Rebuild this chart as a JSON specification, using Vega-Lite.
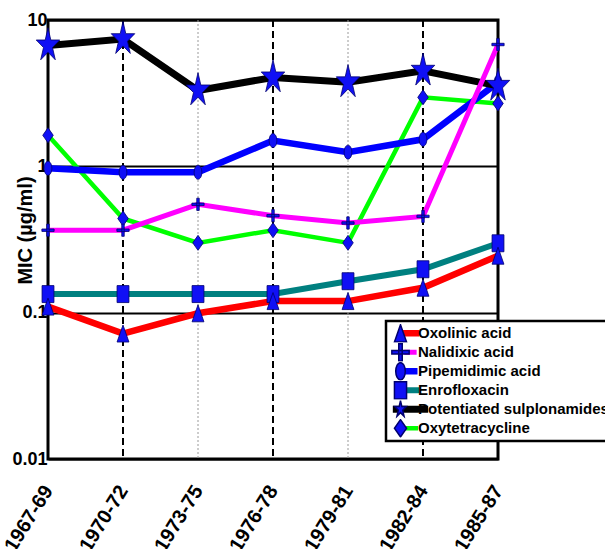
{
  "$schema": "https://vega.github.io/schema/vega-lite/v6.json",
  "width": 450,
  "height": 439,
  "autosize": {"type": "none"},
  "padding": {"left": 48, "top": 20, "right": 107, "bottom": 90},
  "background": "white",
  "config": {
    "view": {"stroke": "black", "strokeWidth": 3},
    "font": "Liberation Sans"
  },
  "datasets": {
    "mic": [
      {"period": "1967-69", "series": "Oxytetracycline", "value": 1.63},
      {"period": "1970-72", "series": "Oxytetracycline", "value": 0.44},
      {"period": "1973-75", "series": "Oxytetracycline", "value": 0.3},
      {"period": "1976-78", "series": "Oxytetracycline", "value": 0.366},
      {"period": "1979-81", "series": "Oxytetracycline", "value": 0.3},
      {"period": "1982-84", "series": "Oxytetracycline", "value": 2.96},
      {"period": "1985-87", "series": "Oxytetracycline", "value": 2.69},
      {"period": "1967-69", "series": "Enrofloxacin", "value": 0.134},
      {"period": "1970-72", "series": "Enrofloxacin", "value": 0.134},
      {"period": "1973-75", "series": "Enrofloxacin", "value": 0.134},
      {"period": "1976-78", "series": "Enrofloxacin", "value": 0.134},
      {"period": "1979-81", "series": "Enrofloxacin", "value": 0.164},
      {"period": "1982-84", "series": "Enrofloxacin", "value": 0.198},
      {"period": "1985-87", "series": "Enrofloxacin", "value": 0.298},
      {"period": "1967-69", "series": "Oxolinic acid", "value": 0.11},
      {"period": "1970-72", "series": "Oxolinic acid", "value": 0.072},
      {"period": "1973-75", "series": "Oxolinic acid", "value": 0.099},
      {"period": "1976-78", "series": "Oxolinic acid", "value": 0.12},
      {"period": "1979-81", "series": "Oxolinic acid", "value": 0.12},
      {"period": "1982-84", "series": "Oxolinic acid", "value": 0.148},
      {"period": "1985-87", "series": "Oxolinic acid", "value": 0.245},
      {"period": "1967-69", "series": "Pipemidimic acid", "value": 0.97},
      {"period": "1970-72", "series": "Pipemidimic acid", "value": 0.91},
      {"period": "1973-75", "series": "Pipemidimic acid", "value": 0.91},
      {"period": "1976-78", "series": "Pipemidimic acid", "value": 1.5},
      {"period": "1979-81", "series": "Pipemidimic acid", "value": 1.25},
      {"period": "1982-84", "series": "Pipemidimic acid", "value": 1.53},
      {"period": "1985-87", "series": "Pipemidimic acid", "value": 3.75},
      {"period": "1967-69", "series": "Potentiated sulplonamides", "value": 6.7},
      {"period": "1970-72", "series": "Potentiated sulplonamides", "value": 7.4},
      {"period": "1973-75", "series": "Potentiated sulplonamides", "value": 3.3},
      {"period": "1976-78", "series": "Potentiated sulplonamides", "value": 4.05},
      {"period": "1979-81", "series": "Potentiated sulplonamides", "value": 3.75},
      {"period": "1982-84", "series": "Potentiated sulplonamides", "value": 4.5},
      {"period": "1985-87", "series": "Potentiated sulplonamides", "value": 3.55},
      {"period": "1967-69", "series": "Nalidixic acid", "value": 0.366},
      {"period": "1970-72", "series": "Nalidixic acid", "value": 0.366},
      {"period": "1973-75", "series": "Nalidixic acid", "value": 0.55},
      {"period": "1976-78", "series": "Nalidixic acid", "value": 0.46},
      {"period": "1979-81", "series": "Nalidixic acid", "value": 0.41},
      {"period": "1982-84", "series": "Nalidixic acid", "value": 0.455},
      {"period": "1985-87", "series": "Nalidixic acid", "value": 6.8}
    ],
    "dashed": [{"period": "1970-72"}, {"period": "1976-78"}, {"period": "1982-84"}],
    "dotted": [{"period": "1973-75"}, {"period": "1979-81"}]
  },
  "layer": [
    {
      "data": {"name": "dotted"},
      "mark": {"type": "rule", "color": "#9a9a9a", "strokeWidth": 1, "strokeDash": [2, 2]},
      "encoding": {
        "x": {"field": "period", "type": "ordinal"}
      }
    },
    {
      "data": {"name": "dashed"},
      "mark": {"type": "rule", "color": "black", "strokeWidth": 2, "strokeDash": [7, 4]},
      "encoding": {
        "x": {"field": "period", "type": "ordinal"}
      }
    },
    {
      "data": {"name": "mic"},
      "mark": {"type": "line", "strokeCap": "butt", "strokeJoin": "miter"},
      "encoding": {
        "x": {
          "field": "period", "type": "ordinal",
          "scale": {"type": "point", "padding": 0, "domain": ["1967-69", "1970-72", "1973-75", "1976-78", "1979-81", "1982-84", "1985-87"]},
          "axis": {
            "title": null, "labelAngle": -58, "labelFont": "Liberation Sans", "labelFontWeight": "bold",
            "labelFontSize": 20, "labelColor": "black", "ticks": false, "domain": false, "grid": false,
            "labelPadding": 28, "labelDx": 1
          }
        },
        "y": {
          "field": "value", "type": "quantitative",
          "scale": {"type": "log", "domain": [0.01, 10], "nice": false},
          "axis": {
            "title": "MIC (µg/ml)", "values": [0.01, 0.1, 1, 10], "format": "~g",
            "labelFont": "Liberation Sans", "labelFontWeight": "bold", "labelFontSize": 18, "labelColor": "black",
            "labelPadding": 1, "ticks": false, "tickSize": 0, "domain": false,
            "grid": true, "gridColor": "black", "gridWidth": 2, "gridOpacity": 1,
            "titleFont": "Liberation Sans", "titleFontWeight": "bold", "titleFontSize": 20, "titleColor": "black",
            "titleX": -23, "titleY": 210, "titleAngle": 270, "titleAlign": "center", "titleBaseline": "middle"
          }
        },
        "color": {
          "field": "series", "type": "nominal",
          "scale": {
            "domain": ["Oxytetracycline", "Potentiated sulplonamides", "Enrofloxacin", "Pipemidimic acid", "Nalidixic acid", "Oxolinic acid"],
            "range": ["#000000", "#000000", "#000000", "#000000", "#000000", "#000000"]
          },
          "legend": {
            "orient": "none", "legendX": 335, "legendY": 304, "title": null,
            "values": ["Oxolinic acid", "Nalidixic acid", "Pipemidimic acid", "Enrofloxacin", "Potentiated sulplonamides", "Oxytetracycline"],
            "symbolType": "stroke", "symbolSize": 484, "symbolStrokeWidth": 4, "symbolOpacity": 0,
            "clipHeight": 18.6, "rowPadding": 0, "padding": 3,
            "labelFont": "Liberation Sans", "labelFontWeight": "bold", "labelFontSize": 15, "labelLimit": 400,
            "labelOffset": -14, "labelOpacity": 0,
            "fillColor": "black", "strokeColor": "black",
            "encode": {"legend": {"update": {"strokeWidth": {"value": 2.5}}}}
          }
        },
        "stroke": {
          "field": "series", "type": "nominal",
          "scale": {
            "domain": ["Oxolinic acid", "Nalidixic acid", "Pipemidimic acid", "Enrofloxacin", "Potentiated sulplonamides", "Oxytetracycline"],
            "range": ["#ff0000", "#ff00ff", "#0000ff", "#008080", "#000000", "#00ff00"]
          },
          "legend": {
            "orient": "none", "legendX": 338, "legendY": 301, "title": null,
            "values": ["Oxolinic acid", "Nalidixic acid", "Pipemidimic acid", "Enrofloxacin", "Potentiated sulplonamides", "Oxytetracycline"],
            "symbolType": "stroke", "symbolSize": 484, "symbolStrokeWidth": 4,
            "clipHeight": 18.6, "rowPadding": 0, "padding": 3,
            "labelFont": "Liberation Sans", "labelFontWeight": "bold", "labelFontSize": 15, "labelLimit": 400,
            "labelOffset": -14, "labelColor": "black",
            "fillColor": "white", "strokeColor": "black",
            "encode": {"legend": {"update": {"strokeWidth": {"value": 2.5}}}}
          }
        },
        "strokeWidth": {
          "field": "series", "type": "nominal",
          "scale": {
            "type": "ordinal",
            "domain": ["Oxolinic acid", "Nalidixic acid", "Pipemidimic acid", "Enrofloxacin", "Potentiated sulplonamides", "Oxytetracycline"],
            "range": [6.5, 5, 6.5, 6, 7, 4.5]
          },
          "legend": null
        }
      }
    },
    {
      "data": {"name": "mic"},
      "mark": {"type": "point", "filled": true, "fill": "#1010f5", "stroke": "#00006e", "strokeWidth": 0.8, "opacity": 1},
      "encoding": {
        "x": {"field": "period", "type": "ordinal"},
        "y": {"field": "value", "type": "quantitative"},
        "shape": {
          "field": "series", "type": "nominal",
          "scale": {
            "domain": ["Nalidixic acid", "Pipemidimic acid", "Enrofloxacin", "Potentiated sulplonamides", "Oxytetracycline", "Oxolinic acid"],
            "range": [
              "M-1,-0.2H1V0.2H-1Z M-0.2,-1H0.2V1H-0.2Z",
              "M0,-1A0.55,1,0,1,1,0,1A0.55,1,0,1,1,0,-1Z",
              "M-0.7,-1H0.7V1H-0.7Z",
              "M0,-1L0.158,-0.309L0.666,-0.309L0.254,0.118L0.412,0.809L0,0.382L-0.412,0.809L-0.254,0.118L-0.666,-0.309L-0.158,-0.309Z",
              "M0,-1L0.7,0L0,1L-0.7,0Z",
              "M0,-1L0.7,1L-0.7,1Z"
            ]
          },
          "legend": {
            "orient": "none", "legendX": 338, "legendY": 301, "title": null,
            "values": ["Oxolinic acid", "Nalidixic acid", "Pipemidimic acid", "Enrofloxacin", "Potentiated sulplonamides", "Oxytetracycline"],
            "symbolSize": 300, "clipHeight": 18.6, "rowPadding": 0, "padding": 3,
            "labelFont": "Liberation Sans", "labelFontWeight": "bold", "labelFontSize": 15, "labelLimit": 400,
            "labelOpacity": 0, "symbolOffset": 2,
            "encode": {"symbols": {"update": {"fill": {"value": "#1010f5"}, "stroke": {"value": "#00006e"}, "strokeWidth": {"value": 0.8}, "opacity": {"value": 1}}}}
          }
        },
        "size": {
          "field": "series", "type": "nominal",
          "scale": {
            "type": "ordinal",
            "domain": ["Oxolinic acid", "Nalidixic acid", "Pipemidimic acid", "Enrofloxacin", "Potentiated sulplonamides", "Oxytetracycline"],
            "range": [289, 150, 196, 289, 1250, 225]
          },
          "legend": null
        }
      }
    }
  ]
}
